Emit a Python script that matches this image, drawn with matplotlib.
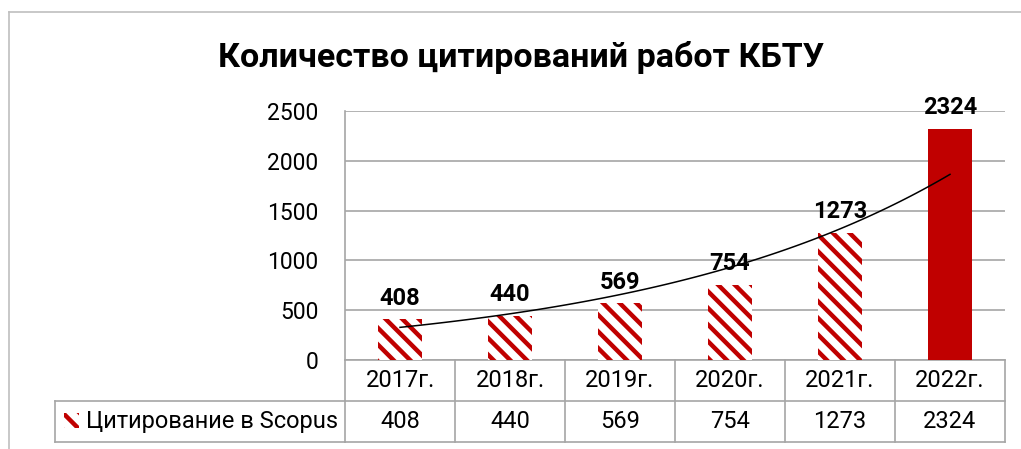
import matplotlib
matplotlib.use("Agg")
import matplotlib.pyplot as plt
import numpy as np
from matplotlib.lines import Line2D
from matplotlib.patches import Rectangle
from matplotlib.transforms import blended_transform_factory

years = ["2017г.", "2018г.", "2019г.", "2020г.", "2021г.", "2022г."]
citations = [408, 440, 569, 754, 1273, 2324]
series_name = "Цитирование в Scopus"
title = "Количество цитирований работ КБТУ"
y_ticks = [0, 500, 1000, 1500, 2000, 2500]

RED = "#C00000"
GRID = "#A6A6A6"
W, H = 1021, 449

plt.rcParams["font.family"] = ["Roboto", "DejaVu Sans"]
plt.rcParams["hatch.linewidth"] = 3.2


def fx(px):
    return px / W


def fy(py):
    return 1 - py / H


fig = plt.figure(figsize=(W / 100, H / 100), dpi=100)
ax = fig.add_axes([fx(345), fy(360), fx(1005) - fx(345), fy(111) - fy(360)])

x = np.arange(1, len(years) + 1)
for i, (xi, val) in enumerate(zip(x, citations)):
    if i == len(years) - 1:
        ax.bar(xi, val, width=0.4, color=RED, linewidth=0, zorder=3)
    else:
        ax.bar(xi, val, width=0.4, facecolor="white", edgecolor=RED, hatch="\\\\", linewidth=0, zorder=3)
    ax.annotate(str(val), (xi, val), xytext=(0, 7), textcoords="offset points",
                ha="center", va="bottom", fontsize=17, fontweight="bold", annotation_clip=False)

# exponential trendline (fit like Excel)
k, b = np.polyfit(x, np.log(citations), 1)
xs = np.linspace(x[0], x[-1], 100)
ax.plot(xs, np.exp(b + k * xs), color="black", linewidth=1.1, zorder=4)

ax.set_xlim(0.5, len(years) + 0.5)
ax.set_ylim(0, 2500)
ax.set_yticks(y_ticks)
ax.set_xticks([])
ax.tick_params(axis="y", length=0, pad=19, labelsize=16.5)
ax.grid(axis="y", color=GRID, linewidth=1.2, zorder=0)
for side in ["top", "right"]:
    ax.spines[side].set_visible(False)
ax.spines["left"].set_color(GRID)
ax.spines["left"].set_linewidth(1.2)
ax.spines["bottom"].set_color(GRID)
ax.spines["bottom"].set_linewidth(1.2)

fig.text(fx(521), fy(57), title, ha="center", va="center", fontsize=24.5, fontweight="bold")

# data table under the axis
tr = blended_transform_factory(ax.transData, fig.transFigure)
lw = 1.2
row1_top, row_mid, row_bot = fy(360), fy(401), fy(442)
for edge in np.arange(0.5, len(years) + 1, 1.0):
    fig.add_artist(Line2D([edge, edge], [row_bot, row1_top], transform=tr, color=GRID, lw=lw))
fig.add_artist(Line2D([fx(55), fx(345)], [row_mid, row_mid], transform=fig.transFigure, color=GRID, lw=lw))
fig.add_artist(Line2D([fx(55), fx(345)], [row_bot, row_bot], transform=fig.transFigure, color=GRID, lw=lw))
fig.add_artist(Line2D([fx(55), fx(55)], [row_bot, row_mid], transform=fig.transFigure, color=GRID, lw=lw))
fig.add_artist(Line2D([0.5, len(years) + 0.5], [row_mid, row_mid], transform=tr, color=GRID, lw=lw))
fig.add_artist(Line2D([0.5, len(years) + 0.5], [row_bot, row_bot], transform=tr, color=GRID, lw=lw))

for xi, label, val in zip(x, years, citations):
    fig.text(xi, (row1_top + row_mid) / 2, label, transform=tr, ha="center", va="center", fontsize=17)
    fig.text(xi, (row_mid + row_bot) / 2, str(val), transform=tr, ha="center", va="center", fontsize=17)

fig.add_artist(Rectangle((fx(64), fy(428)), fx(15), fy(413) - fy(428), transform=fig.transFigure,
                         facecolor="white", edgecolor=RED, hatch="\\\\", linewidth=0))
fig.text(fx(86), (row_mid + row_bot) / 2, series_name, ha="left", va="center", fontsize=17)

# chart frame
fig.add_artist(Line2D([fx(9), fx(9)], [0, fy(12)], transform=fig.transFigure, color="#BFBFBF", lw=1.2))
fig.add_artist(Line2D([fx(9), 1], [fy(12), fy(12)], transform=fig.transFigure, color="#BFBFBF", lw=1.2))

fig.savefig("out.png", dpi=100)
